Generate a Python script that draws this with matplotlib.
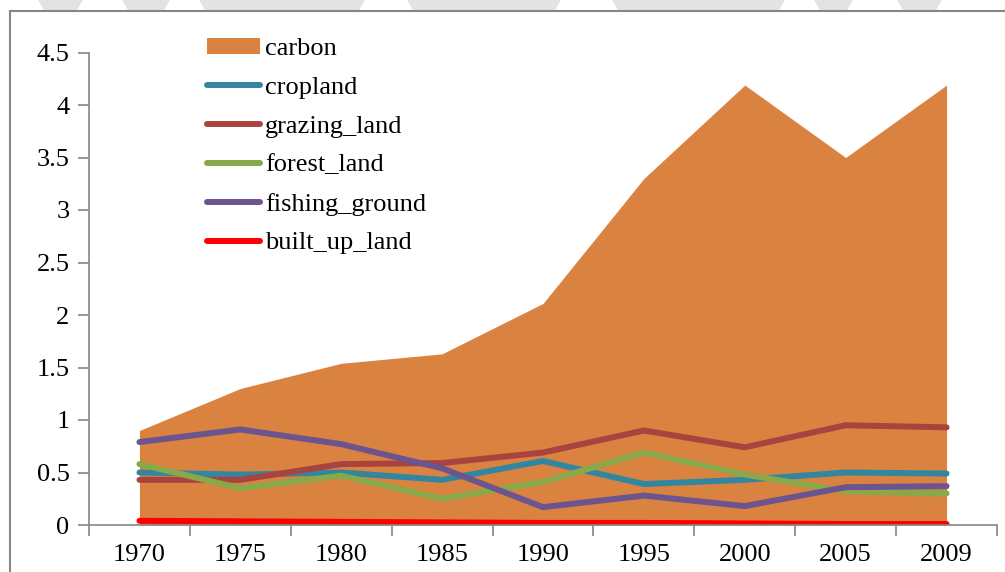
import matplotlib
matplotlib.use("Agg")
import matplotlib.pyplot as plt
from matplotlib.patches import Rectangle, Polygon
import numpy as np

years = ["1970", "1975", "1980", "1985", "1990", "1995", "2000", "2005", "2009"]
carbon = [0.90, 1.30, 1.54, 1.63, 2.11, 3.30, 4.19, 3.50, 4.19]
cropland = [0.50, 0.48, 0.50, 0.43, 0.61, 0.39, 0.43, 0.50, 0.49]
grazing_land = [0.43, 0.43, 0.58, 0.59, 0.69, 0.90, 0.74, 0.95, 0.93]
forest_land = [0.58, 0.35, 0.47, 0.25, 0.41, 0.69, 0.48, 0.32, 0.30]
fishing_ground = [0.79, 0.91, 0.77, 0.54, 0.17, 0.28, 0.18, 0.36, 0.37]
built_up_land = [0.04, 0.035, 0.03, 0.025, 0.02, 0.02, 0.015, 0.01, 0.01]

plt.rcParams['font.family'] = 'serif'
plt.rcParams['font.serif'] = ['Liberation Serif', 'Times New Roman', 'Nimbus Roman', 'DejaVu Serif']
FS = 19
GRAY = '#868686'

fig = plt.figure(figsize=(10.05, 5.72), dpi=100)
W, H = 1005, 572

# faint watermark shapes at the very top
wm = '#e3e3e3'
for xs in [(38, 83), (122, 170), (199, 365), (407, 561), (612, 785), (814, 853), (897, 942)]:
    fig.patches.append(Polygon([(xs[0] / W, 1), (xs[1] / W, 1), ((xs[1] - 6) / W, (H - 10) / H),
                                ((xs[0] + 6) / W, (H - 10) / H)], closed=True,
                               transform=fig.transFigure, facecolor=wm, edgecolor='none', zorder=0))

# outer frame
fig.patches.append(Rectangle((10 / W, -0.1), 1.2, (H - 11) / H + 0.1, transform=fig.transFigure,
                             fill=False, edgecolor=GRAY, linewidth=1.5, zorder=1))

ax = fig.add_axes([89 / W, 47 / H, (997 - 89) / W, (525 - 52.5) / H])
x = np.arange(len(years))

ax.fill_between(x, 0, carbon, color='#DA8240', linewidth=0, label='carbon', zorder=2)
series = [
    (cropland, '#33869F', 'cropland'),
    (grazing_land, '#A9433F', 'grazing_land'),
    (forest_land, '#88A84A', 'forest_land'),
    (fishing_ground, '#6C548F', 'fishing_ground'),
    (built_up_land, '#FF0000', 'built_up_land'),
]
for vals, c, lab in series:
    ax.plot(x, vals, color=c, linewidth=4.3, solid_capstyle='round', solid_joinstyle='round',
            label=lab, zorder=3)

ax.set_xlim(-0.5, len(years) - 0.5)
ax.set_ylim(0, 4.5)
ax.set_yticks(np.arange(0, 4.51, 0.5))
ax.set_yticklabels(['0', '0.5', '1', '1.5', '2', '2.5', '3', '3.5', '4', '4.5'])
ax.set_xticks(x)
ax.set_xticklabels(years)
ax.set_xticks(np.arange(-0.5, len(years), 1.0), minor=True)
ax.tick_params(axis='x', which='major', length=0, labelsize=FS, pad=14)
ax.tick_params(axis='x', which='minor', length=8, color=GRAY, width=1.2, direction='out')
ax.tick_params(axis='y', length=8, color=GRAY, width=1.2, direction='out', labelsize=FS, pad=6)
for s in ['top', 'right']:
    ax.spines[s].set_visible(False)
for s in ['left', 'bottom']:
    ax.spines[s].set_color(GRAY)
    ax.spines[s].set_linewidth(1.2)
    ax.spines[s].set_zorder(5)

leg = ax.legend(loc='upper left', bbox_to_anchor=(207 / W, (H - 38) / H),
                bbox_transform=fig.transFigure, frameon=False, fontsize=FS,
                handlelength=2.0, handletextpad=0.2, labelspacing=0.62,
                handleheight=0.55, borderpad=0, borderaxespad=0)

fig.savefig('out.png', dpi=100)
